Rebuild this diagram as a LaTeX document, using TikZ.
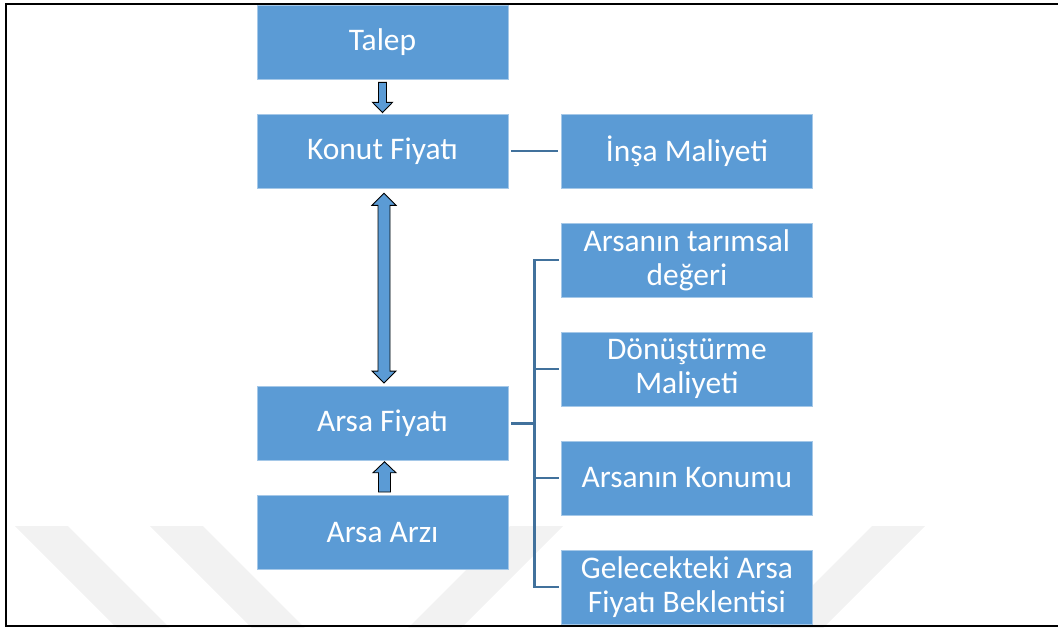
\documentclass[tikz,border=0pt]{standalone}
\usepackage{fontspec}
\setmainfont{Carlito}
\usepackage{xcolor}
\usetikzlibrary{positioning, calc}

\definecolor{boxblue}{HTML}{5B9BD5}
\definecolor{linkblue}{HTML}{41719C}
\definecolor{wmgray}{HTML}{F2F2F2}

\begin{document}
\begin{tikzpicture}[x=0.02cm, y=-0.02cm, node distance=2.18cm and 6.09cm, on grid,
    box/.style={rectangle, fill=boxblue, draw=boxblue!55!white, line width=0.4pt,
      minimum width=5.02cm, minimum height=1.48cm, inner sep=0pt,
      text=white, align=center, font=\fontsize{17.9}{19.3}\selectfont},
    link/.style={draw=linkblue, line width=1.4pt},
    blockarrow/.style={fill=boxblue, draw=black, line width=0.5pt, line join=miter},
    band/.style={fill=wmgray, draw=none}]
  \useasboundingbox (0,0) rectangle (1058,628);

  % watermark
  \fill[band] (15,526) -- (68,526) -- (170,628) -- (117,628) -- cycle;
  \fill[band] (150,526) -- (203,526) -- (305,628) -- (252,628) -- cycle;
  \fill[band] (510,526) -- (563,526) -- (461,628) -- (408,628) -- cycle;
  \fill[band] (872,526) -- (925,526) -- (823,628) -- (770,628) -- cycle;

  \node[box] (talep) at (382.5,42) {Talep};
  \node[box] (konut) [below=of talep] {Konut Fiyatı};
  \node[box] (insa) [right=of konut] {İnşa Maliyeti};
  \node[box] (tarim) [below=of insa] {Arsanın tarımsal\\değeri};
  \node[box] (donus) [below=of tarim] {Dönüştürme\\Maliyeti};
  \node[box] (konum) [below=of donus] {Arsanın Konumu};
  \node[box] (gelecek) [below=of konum] {Gelecekteki Arsa\\Fiyatı Beklentisi};
  \node[box] (arsa) [below=5.45cm of konut] {Arsa Fiyatı};
  \node[box] (arz) [below=of arsa] {Arsa Arzı};

  % block arrows
  \draw[blockarrow] ($(talep.south)+(-4,3)$) -- ++(8,0) -- ++(0,20) -- ++(6,0)
    -- ($(konut.north)+(0,-1)$) -- ($(talep.south)+(-10,23)$) -- ++(6,0) -- cycle;

  \coordinate (dtop) at ($(konut.south)+(1.5,5)$);
  \coordinate (dbot) at ($(arsa.north)+(1.5,-3)$);
  \draw[blockarrow] (dtop) -- ++(12,12) -- ++(-6,0) -- ($(dbot)+(6,-12)$) -- ++(6,0)
    -- (dbot) -- ++(-12,-12) -- ++(6,0) -- ($(dtop)+(-6,12)$) -- ++(-6,0) -- cycle;

  \draw[blockarrow] ($(arsa.south)+(2,1)$) -- ++(11.5,11) -- ++(-5.5,0)
    -- ($(arz.north)+(8,-3)$) -- ++(-12,0) -- ($(arsa.south)+(-4,12)$) -- ++(-5.5,0) -- cycle;

  % links
  \draw[link] ($(konut.east)+(3,0)$) -- ($(insa.west)+(-3,0)$);
  \coordinate (bus) at ($(arsa.east)+(26,0)$);
  \draw[link, line width=2pt] ($(arsa.east)+(3,0)$) -- (bus);
  \draw[link] ($(tarim.west)+(-2,0)$) -- (tarim.west -| bus) -- (gelecek.west -| bus)
    -- ($(gelecek.west)+(-2,0)$);
  \foreach \n in {donus, konum}
    \draw[link] (\n.west -| bus) -- ($(\n.west)+(-2,0)$);

  % frame
  \draw[line width=1.1pt] (1070,4) -- (6,4) -- (6,626) -- (1070,626);
\end{tikzpicture}
\end{document}
